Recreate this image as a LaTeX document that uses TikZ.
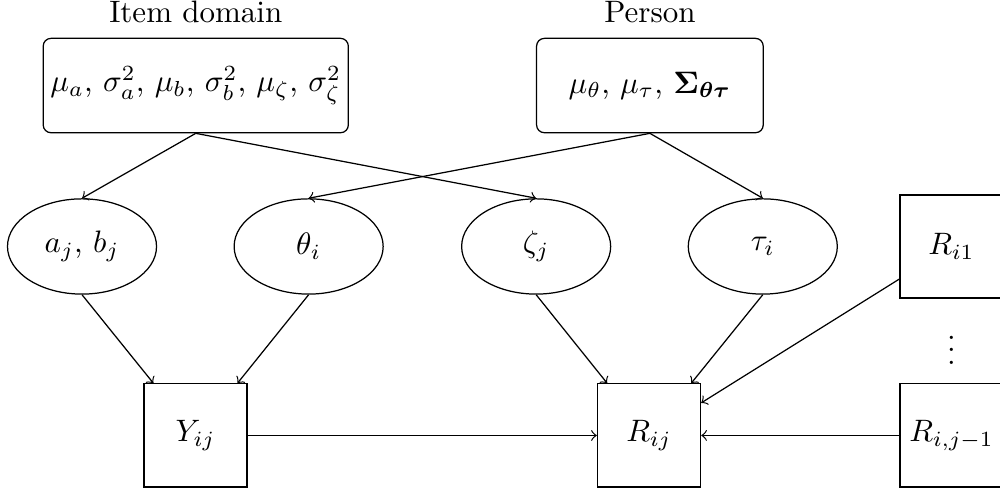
\documentclass[tikz,border=0pt]{standalone}
\usepackage{amsmath,amssymb,bm}
\usetikzlibrary{
  calc,
  positioning,
  shapes.geometric
}

\begin{document}
\begin{tikzpicture}[
  hyper/.style={draw,rounded corners=2.5pt,align=center,inner sep=2pt,
    minimum height=10.7mm},
  latent/.style={ellipse,draw,minimum width=16.9mm,minimum height=10.8mm,
    inner sep=1pt},
  obs/.style={draw,minimum size=11.7mm,inner sep=1pt},
  arrow/.style={->}
]
\useasboundingbox (0,0) rectangle (11.34,5.59);

% hyperparameters
\node[hyper,minimum width=34.6mm] (itemhyp) at (2.22,4.62)
  {$\mu_a$, $\sigma^2_a$, $\mu_b$, $\sigma^2_b$, $\mu_\zeta$, $\sigma^2_\zeta$};
\node[hyper,minimum width=25.7mm] (perhyp) at (7.37,4.62)
  {$\mu_\theta$, $\mu_\tau$, $\bm{\Sigma}_{\bm{\theta\tau}}$};
\node[above=0.4mm of itemhyp] (itemlbl) {Item domain};
\node[above=0.4mm of perhyp] (perlbl) {Person};

% latent variables
\node[latent] (ab) at (0.93,2.795) {$a_j$, $b_j$};
\node[latent] (theta) at (3.50,2.795) {$\theta_i$};
\node[latent] (zeta) at (6.08,2.795) {$\zeta_j$};
\node[latent] (tau) at (8.65,2.795) {$\tau_i$};

% observed
\node[obs] (y) at (2.217,0.652) {$Y_{ij}$};
\node[obs] (r) at (7.36,0.652) {$R_{ij}$};
\node[obs] (ri1) at (10.79,2.795) {$R_{i1}$};
\node[obs] (rijm) at (10.79,0.652) {$R_{i,j-1}$};
\node (vd) at ($(ri1)!0.5!(rijm)$) {$\vdots$};

\draw[arrow] (itemhyp.south) -- (ab.north);
\draw[arrow] (itemhyp.south) -- (zeta.north);
\draw[arrow] (perhyp.south) -- (theta.north);
\draw[arrow] (perhyp.south) -- (tau.north);
\draw[arrow] (ab.south) -- (y);
\draw[arrow] (theta.south) -- (y);
\draw[arrow] (zeta.south) -- (r);
\draw[arrow] (tau.south) -- (r);
\draw[arrow] (y) -- (r);
\draw[arrow] (ri1) -- (r);
\draw[arrow] (rijm) -- (r);
\end{tikzpicture}
\end{document}
